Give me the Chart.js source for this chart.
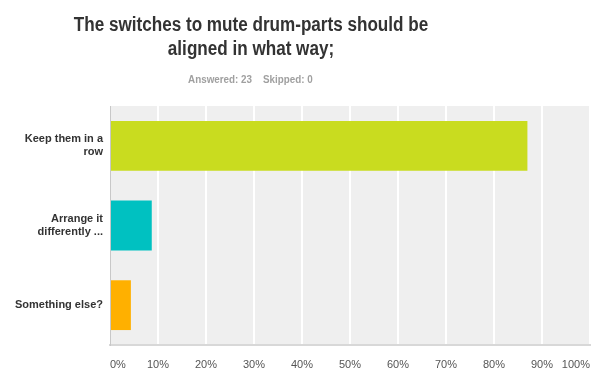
<!DOCTYPE html>
<html>
<head>
<meta charset="utf-8">
<script src="https://cdn.jsdelivr.net/npm/chart.js@4"></script>
<style>
  html, body { margin: 0; padding: 0; background: #fff; }
  #wrap { width: 610px; height: 388px; }
</style>
</head>
<body>
<div id="wrap"><canvas id="chart" width="610" height="388"></canvas></div>
<script>
const titleLines = ['The switches to mute drum-parts should be', 'aligned in what way;'];
const answeredText = 'Answered: 23';
const skippedText = 'Skipped: 0';
const categories = [['Keep them in a', 'row'], ['Arrange it', 'differently ...'], ['Something else?']];
const percents = [86.96, 8.70, 4.35];
const barColors = ['#c9dc1f', '#00c1c1', '#ffb000'];
const tickValues = [0, 10, 20, 30, 40, 50, 60, 70, 80, 90, 100];

const FONT = '"Liberation Sans", Arial, sans-serif';

// grey plot background + title block drawn centred like the survey export
const surveyDecor = {
  id: 'surveyDecor',
  beforeDraw(chart) {
    const { ctx, chartArea: a } = chart;
    ctx.save();
    ctx.fillStyle = '#efefef';
    ctx.fillRect(a.left, a.top, a.right - a.left, a.bottom - a.top);
    ctx.restore();
  },
  afterDraw(chart) {
    const ctx = chart.ctx;
    ctx.save();
    // the export font is a bit narrower than Arial, squeeze it sideways
    ctx.translate(251, 0);
    ctx.scale(0.855, 1);
    ctx.textBaseline = 'middle';
    ctx.textAlign = 'center';
    ctx.fillStyle = '#333';
    ctx.font = 'bold 20px ' + FONT;
    ctx.fillText(titleLines[0], 0, 25);
    ctx.fillText(titleLines[1], 0, 49);
    ctx.fillStyle = '#a0a0a0';
    ctx.font = 'bold 11.5px ' + FONT;
    ctx.textAlign = 'right';
    ctx.fillText(answeredText, 1 / 0.855, 80);
    ctx.textAlign = 'left';
    ctx.fillText(skippedText, 12 / 0.855, 80);
    ctx.restore();
  }
};

new Chart(document.getElementById('chart'), {
  type: 'bar',
  data: {
    labels: categories,
    datasets: [{
      data: percents,
      backgroundColor: barColors,
      borderWidth: 0,
      barPercentage: 0.625,
      categoryPercentage: 1
    }]
  },
  options: {
    indexAxis: 'y',
    responsive: false,
    animation: false,
    layout: { padding: { top: 106, right: 20, left: 0, bottom: 0 } },
    plugins: {
      legend: { display: false },
      tooltip: { enabled: false }
    },
    scales: {
      x: {
        min: 0,
        max: 100,
        afterBuildTicks(scale) {
          scale.ticks = tickValues.map(v => ({ value: v }));
        },
        afterFit(scale) { scale.height = 43; },
        grid: {
          color: ctx => (ctx.index === 0 ? 'rgba(0,0,0,0)' : '#ffffff'),
          lineWidth: 2,
          drawTicks: false
        },
        border: { display: true, color: '#d8d8d8', width: 2 },
        ticks: {
          align: 'inner',
          padding: 13,
          color: '#555',
          font: { family: FONT, size: 11 },
          callback: v => v + '%'
        }
      },
      y: {
        afterFit(scale) { scale.width = 110; },
        grid: { display: false, drawTicks: false },
        border: { display: true, color: '#c8c8c8', width: 1 },
        ticks: {
          padding: 7,
          color: '#333',
          font: { family: FONT, size: 11, weight: 'bold', lineHeight: 1.2 }
        }
      }
    }
  },
  plugins: [surveyDecor]
});
</script>
</body>
</html>
